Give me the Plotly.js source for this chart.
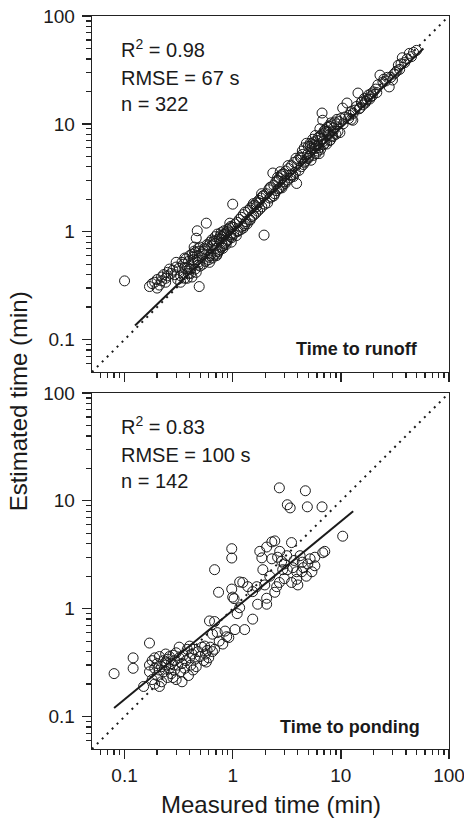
<!DOCTYPE html>
<html>
<head>
<meta charset="utf-8">
<script src="https://cdn.plot.ly/plotly-3.0.1.min.js"></script>
<style>html,body{margin:0;padding:0;background:#fff;}#chart{width:464px;height:820px;}</style>
</head>
<body>
<div id="chart"></div>
<script>
// ---------- Time to runoff (top panel) ----------
const runoffMeasured = [
  0.10,0.17,0.18,0.19,0.20,0.21,0.22,0.23,0.24,0.25,
  0.20,0.22,0.24,0.25,0.26,0.27,0.28,0.29,0.30,0.30,
  0.31,0.32,0.33,0.34,0.35,0.36,0.37,0.38,0.39,0.40,
  0.41,0.42,0.43,0.44,0.45,0.46,0.47,0.48,0.49,0.50,
  0.33,0.35,0.38,0.40,0.42,0.44,0.46,0.47,0.48,0.50,
  0.36,0.39,0.41,0.43,0.45,0.47,0.49,0.36,0.44,0.48,
  0.52,0.53,0.55,0.56,0.57,0.58,0.60,0.61,0.62,0.63,
  0.64,0.65,0.66,0.68,0.69,0.70,0.71,0.72,0.74,0.75,
  0.76,0.78,0.79,0.80,0.82,0.83,0.85,0.86,0.88,0.90,
  0.91,0.93,0.95,0.97,0.99,1.00,0.54,0.59,0.67,0.73,
  0.77,0.81,0.84,0.87,0.89,0.94,0.96,0.98,0.62,0.70,
  0.56,0.60,0.64,0.68,0.72,0.78,0.82,0.86,0.92,0.96,
  1.02,1.05,1.08,1.10,1.12,1.15,1.18,1.20,1.22,1.25,
  1.28,1.30,1.33,1.36,1.40,1.43,1.46,1.50,1.53,1.56,
  1.60,1.63,1.66,1.70,1.74,1.78,1.82,1.86,1.90,1.95,
  1.10,1.25,1.45,1.65,1.85,1.98,1.30,1.55,1.75,1.92,
  2.05,2.10,2.15,2.20,2.25,2.30,2.35,2.40,2.45,2.50,
  2.55,2.60,2.65,2.70,2.75,2.80,2.85,2.90,2.95,3.00,
  3.10,3.20,3.30,3.40,3.50,3.60,3.70,3.80,3.90,4.00,
  2.20,2.40,2.60,2.85,3.05,3.25,3.45,3.65,3.85,2.75,
  4.1,4.2,4.3,4.4,4.5,4.6,4.7,4.8,4.9,5.0,
  5.1,5.2,5.3,5.4,5.5,5.6,5.7,5.8,5.9,6.0,
  6.1,6.2,6.3,6.4,6.5,6.6,6.7,6.8,6.9,7.0,
  7.1,7.2,7.4,7.6,7.8,8.0,8.2,8.4,8.6,8.8,
  9.0,9.2,9.4,9.6,9.8,10.0,4.4,4.9,5.4,5.9,
  6.4,6.9,7.3,7.7,8.1,8.5,9.1,4.6,5.2,5.8,
  6.3,6.7,7.5,8.3,4.3,5.0,5.6,6.2,7.0,7.9,
  10.5,11.0,11.4,12.0,12.5,12.9,13.5,14.0,14.4,15.0,
  15.5,16.0,16.5,17.0,17.5,18.0,18.5,19.0,19.5,20.0,
  10.4,11.8,13.0,14.8,16.8,18.8,12.4,15.6,
  21,22,23,24.5,26,27,28,30,31,33,
  34,35,37,39,41,43,45,47,50,21.5,
  25,29,32,36
];
const runoffEstimated = [
  0.35,0.31,0.33,0.34,0.36,0.32,0.38,0.40,0.37,0.42,
  0.30,0.35,0.34,0.39,0.45,0.41,0.44,0.40,0.47,0.52,
  0.36,0.46,0.34,0.52,0.40,0.37,0.56,0.47,0.41,0.60,
  0.45,0.38,0.58,0.51,0.64,0.42,0.55,0.70,0.31,0.48,
  0.39,0.50,0.37,0.45,0.62,0.66,0.87,1.02,0.52,0.72,
  0.46,0.53,0.41,0.55,0.45,0.60,0.66,0.57,0.72,0.49,
  0.62,0.50,0.70,0.53,1.20,0.76,0.58,0.52,0.80,0.62,
  0.84,0.57,0.76,0.61,0.90,0.70,0.60,0.95,0.66,0.86,
  0.68,0.98,0.72,0.90,0.74,1.02,0.78,0.96,0.82,1.05,
  0.84,1.08,0.90,0.80,1.10,1.80,0.66,0.74,0.82,0.65,
  0.92,0.70,0.94,0.76,1.00,1.20,1.12,0.88,0.60,0.82,
  0.68,0.55,0.74,0.78,0.62,0.86,0.95,0.80,1.02,0.94,
  0.95,1.18,0.92,1.22,1.02,1.30,1.04,1.36,1.12,1.44,
  1.14,1.52,1.24,1.18,1.58,1.30,1.66,1.38,1.74,1.42,
  1.76,1.48,1.86,1.55,1.95,1.62,2.05,1.70,2.15,0.93,
  1.00,1.08,1.28,1.70,2.25,1.80,1.18,1.82,1.86,2.15,
  2.25,1.85,2.45,2.05,2.60,2.10,3.50,2.70,2.25,2.90,
  2.40,3.00,2.50,3.15,2.55,3.30,3.40,2.70,3.45,2.90,
  3.65,3.00,3.85,3.15,4.10,3.35,4.40,3.55,2.80,4.60,
  2.55,2.15,3.20,2.55,2.80,4.10,3.35,3.25,4.80,3.60,
  3.7,4.9,4.0,5.6,4.2,6.0,4.5,6.6,4.8,6.2,
  5.0,6.6,4.6,6.0,7.2,5.1,6.4,7.8,5.3,7.0,
  5.6,7.5,6.0,9.0,5.8,7.9,12.6,10.8,6.4,8.2,
  6.6,8.8,6.5,8.4,9.5,7.1,9.8,7.6,9.2,10.4,
  8.0,11.0,8.5,10.5,8.3,11.2,5.2,5.2,6.5,6.2,
  7.7,6.9,8.5,7.9,10.2,8.6,10.0,4.4,6.2,5.9,
  5.3,7.3,9.3,7.8,4.8,4.8,6.8,6.3,8.6,7.0,
  10.0,11.6,15.6,12.0,11.0,10.8,13.4,14.5,19.3,14.0,
  15.8,15.0,17.2,16.2,16.8,18.5,17.0,19.0,18.2,19.8,
  14.0,11.2,12.5,13.8,15.6,17.8,13.0,16.0,
  21,23,28.3,24.4,25,27,22,25.5,29,31,
  35,32,41,37,40,45,42,46,48,19.5,
  26,27,30,36
];
const runoffFitX = [0.125, 58];
const runoffFitY = [0.135, 50];

// ---------- Time to ponding (bottom panel) ----------
const pondingMeasured = [
  0.08,0.12,0.12,0.17,0.15,
  0.17,0.17,0.18,0.18,0.19,0.19,0.20,0.20,0.21,0.21,
  0.22,0.22,0.23,0.23,0.24,0.24,0.25,0.25,0.26,0.26,
  0.27,0.27,0.28,0.29,0.29,0.30,0.30,0.31,0.32,0.32,
  0.33,0.34,0.34,0.35,0.36,0.37,0.38,0.39,0.40,0.40,
  0.41,0.42,0.43,0.44,0.45,0.46,0.48,0.50,0.52,0.54,
  0.55,0.56,0.57,0.58,0.60,0.62,0.19,0.21,0.24,0.28,
  0.61,0.65,0.68,0.68,0.74,0.65,0.81,0.88,0.68,0.98,
  0.98,0.98,1.03,1.16,0.75,0.85,0.92,1.05,1.10,0.72,
  1.24,1.38,1.53,1.67,1.70,1.78,1.86,1.98,2.06,2.06,
  2.06,2.30,2.30,2.45,2.45,2.55,2.60,2.72,2.84,3.00,
  2.70,3.16,3.20,3.50,3.50,3.60,3.90,3.90,4.00,4.20,
  4.35,4.40,4.95,5.75,5.75,6.80,7.10,5.40,4.80,1.90,
  1.00,1.16,1.53,1.29,2.70,2.90,3.20,3.40,4.70,4.90,
  6.70,10.4,3.00,2.20,4.50,5.20,3.70
];
const pondingEstimated = [
  0.25,0.35,0.28,0.48,0.19,
  0.30,0.26,0.33,0.22,0.28,0.35,0.24,0.31,0.27,0.36,
  0.29,0.21,0.33,0.26,0.38,0.30,0.23,0.34,0.28,0.36,
  0.31,0.25,0.37,0.27,0.33,0.22,0.39,0.30,0.35,0.44,
  0.26,0.31,0.21,0.37,0.28,0.33,0.42,0.24,0.45,0.35,
  0.30,0.38,0.27,0.42,0.34,0.29,0.40,0.36,0.44,0.33,
  0.45,0.38,0.32,0.41,0.35,0.44,0.20,0.19,0.32,0.23,
  0.77,0.58,0.76,2.30,1.42,0.40,0.47,0.55,0.42,3.60,
  2.95,1.52,1.24,1.77,0.50,0.62,0.54,0.64,0.90,0.60,
  1.75,1.60,1.44,1.60,1.10,3.40,2.96,1.66,1.25,3.73,
  1.10,4.16,2.90,4.25,1.42,1.60,3.00,3.40,2.75,1.90,
  1.75,3.10,2.30,4.10,1.75,2.40,2.20,1.87,1.66,3.10,
  2.20,2.70,2.60,2.50,3.00,3.30,3.40,2.20,2.00,2.30,
  1.28,1.02,0.80,0.64,13.2,2.30,9.20,8.60,12.4,8.80,
  8.80,4.70,2.60,2.00,2.40,2.90,2.80
];
const pondingFitX = [0.08, 13];
const pondingFitY = [0.12, 8];

// ---------- 1:1 line and axis ticks ----------
const oneToOne = [0.05, 100];
const majorTicks = [0.1, 1, 10, 100];
const majorLabels = ['0.1', '1', '10', '100'];
const minorTicks = [0.06,0.07,0.08,0.09,
  0.2,0.3,0.4,0.5,0.6,0.7,0.8,0.9,
  2,3,4,5,6,7,8,9,
  20,30,40,50,60,70,80,90];

const FONT = 'Liberation Sans, Arial, Helvetica, sans-serif';
const INK = '#1a1a1a';
const AXC = '#222';

const markerStyle = {symbol: 'circle-open', size: 10, color: INK, line: {width: 1, color: INK}};
const dotLine = {color: INK, width: 2, dash: '2px,5px'};
const fitLine = {color: INK, width: 2};

const traces = [
  {x: oneToOne, y: oneToOne, xaxis: 'x2', yaxis: 'y2', mode: 'lines', line: dotLine, hoverinfo: 'skip'},
  {x: runoffMeasured, y: runoffEstimated, xaxis: 'x2', yaxis: 'y2', mode: 'markers', marker: markerStyle},
  {x: runoffFitX, y: runoffFitY, xaxis: 'x2', yaxis: 'y2', mode: 'lines', line: fitLine},
  {x: oneToOne, y: oneToOne, xaxis: 'x', yaxis: 'y', mode: 'lines', line: dotLine, hoverinfo: 'skip'},
  {x: pondingMeasured, y: pondingEstimated, xaxis: 'x', yaxis: 'y', mode: 'markers', marker: markerStyle},
  {x: pondingFitX, y: pondingFitY, xaxis: 'x', yaxis: 'y', mode: 'lines', line: fitLine}
];

const logRange = [Math.log10(0.05), 2];

function axis(extra) {
  return Object.assign({
    type: 'log',
    range: logRange,
    tickmode: 'array',
    tickvals: majorTicks,
    ticktext: majorLabels,
    ticks: 'outside',
    ticklen: 9,
    tickwidth: 1.3,
    tickcolor: AXC,
    showline: true,
    linecolor: AXC,
    linewidth: 1.3,
    mirror: true,
    showgrid: false,
    zeroline: false,
    ticklabelstandoff: 3,
    ticklabeloverflow: 'allow',
    tickfont: {family: FONT, size: 19, color: INK},
    minor: {tickmode: 'array', tickvals: minorTicks, ticks: 'outside', ticklen: 4.5,
            tickwidth: 1.3, tickcolor: AXC, showgrid: false}
  }, extra);
}

const annFont = {family: FONT, size: 20, color: INK};
const boldFont = {family: FONT, size: 18, color: INK, weight: 'bold'};

function statsAnn(xr, yr, lines) {
  const ys = [0.91, 0.826, 0.753];
  return lines.map((t, i) => ({
    xref: xr + ' domain', yref: yr + ' domain', x: 0.075, y: ys[i],
    xanchor: 'left', yanchor: 'middle', showarrow: false, text: t, font: annFont
  }));
}

const annotations = [].concat(
  statsAnn('x2', 'y2', ['R<sup>2</sup> = 0.98', 'RMSE = 67 s', 'n = 322']),
  statsAnn('x', 'y', ['R<sup>2</sup> = 0.83', 'RMSE = 100 s', 'n = 142']),
  [
    {xref: 'x2 domain', yref: 'y2 domain', x: 0.918, y: 0.064, xanchor: 'right', yanchor: 'middle',
     showarrow: false, text: '<b>Time to runoff</b>', font: boldFont},
    {xref: 'x domain', yref: 'y domain', x: 0.925, y: 0.062, xanchor: 'right', yanchor: 'middle',
     showarrow: false, text: '<b>Time to ponding</b>', font: boldFont},
    {xref: 'paper', yref: 'paper', x: 0.5, y: -0.076, xanchor: 'center', yanchor: 'middle',
     showarrow: false, text: 'Measured time (min)', font: {family: FONT, size: 24, color: INK}},
    {xref: 'paper', yref: 'paper', x: -0.205, y: 0.474, xanchor: 'center', yanchor: 'middle', textangle: -90,
     showarrow: false, text: 'Estimated time (min)', font: {family: FONT, size: 24, color: INK}}
  ]
);

const layout = {
  width: 464, height: 820,
  margin: {l: 92, r: 15, t: 16, b: 71},
  paper_bgcolor: '#fff', plot_bgcolor: '#fff',
  showlegend: false,
  font: {family: FONT, color: INK},
  xaxis: axis({anchor: 'y', domain: [0, 1], ticklabelstandoff: 0}),
  yaxis: axis({anchor: 'x', domain: [0, 0.4857]}),
  xaxis2: axis({anchor: 'y2', domain: [0, 1], showticklabels: false}),
  yaxis2: axis({anchor: 'x2', domain: [0.5143, 1]}),
  annotations: annotations
};

Plotly.newPlot('chart', traces, layout, {staticPlot: true, displayModeBar: false});
</script>
</body>
</html>
